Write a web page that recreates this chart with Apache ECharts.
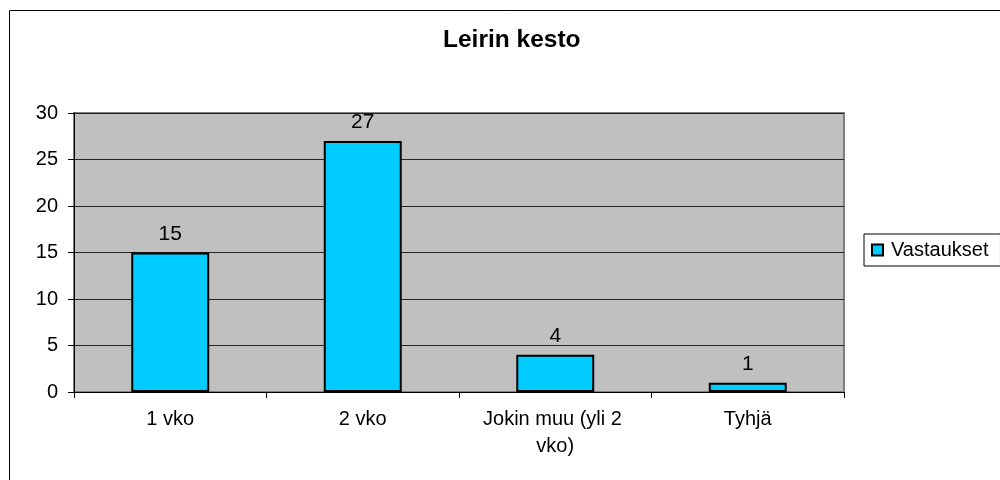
<!DOCTYPE html>
<html>
<head>
<meta charset="utf-8">
<script src="https://cdn.jsdelivr.net/npm/echarts@6/dist/echarts.min.js"></script>
<style>
	html,body{margin:0;padding:0;background:#fff;}
	#chart{width:1000px;height:480px;}
</style>
</head>
<body>
<div id="chart"></div>
<script>
	var chartTitle = 'Leirin kesto';
	var seriesName = 'Vastaukset';
	var categories = ['1 vko', '2 vko', 'Jokin muu (yli 2 vko)', 'Tyhjä'];
	var answers = [15, 27, 4, 1];
	var yTicks = [0, 5, 10, 15, 20, 25, 30];

	var font = 'Arial, "Liberation Sans", sans-serif';
	var chart = echarts.init(document.getElementById('chart'));
	var option = {
		animation: false,
		backgroundColor: '#fff',
		textStyle: {fontFamily: font},
		graphic: [{
			type: 'rect',
			shape: {x: 9.5, y: 10.5, width: 1000, height: 500},
			style: {fill: 'none', stroke: '#000', lineWidth: 1}
		}],
		title: {
			text: chartTitle,
			left: 443,
			top: 28,
			padding: 0,
			textStyle: {fontFamily: font, fontSize: 24.5, fontWeight: 'bold', color: '#000'}
		},
		legend: {
			data: [seriesName],
			left: 864,
			top: 234,
			padding: [6, 12, 6, 7],
			borderColor: '#000',
			borderWidth: 1,
			itemWidth: 11,
			itemHeight: 11,
			itemGap: 5,
			icon: 'rect',
			textStyle: {fontFamily: font, fontSize: 20, color: '#000', padding: [0, 0, 0, 3]}
		},
		grid: {
			left: 74, right: 156, top: 113, bottom: 88,
			show: true,
			backgroundColor: '#c0c0c0',
			borderColor: '#808080',
			borderWidth: 2,
			containLabel: false
		},
		xAxis: {
			type: 'category',
			data: categories,
			axisLine: {show: true, lineStyle: {color: '#000', width: 1}},
			axisTick: {show: true, length: 6, lineStyle: {color: '#000'}},
			axisLabel: {
				fontFamily: font, fontSize: 20, color: '#000', margin: 14,
				width: 175, overflow: 'break', lineHeight: 27, interval: 0
			},
			splitLine: {show: false}
		},
		yAxis: {
			type: 'value',
			min: yTicks[0],
			max: yTicks[yTicks.length - 1],
			interval: 5,
			axisLine: {show: true, lineStyle: {color: '#000', width: 1}},
			axisTick: {show: true, length: 6, lineStyle: {color: '#000'}},
			axisLabel: {fontFamily: font, fontSize: 20, color: '#000', margin: 16},
			splitLine: {show: true, lineStyle: {color: '#222', width: 1}}
		},
		series: [{
			name: seriesName,
			type: 'bar',
			data: answers,
			barWidth: '40.5%',
			itemStyle: {color: '#00ccff', borderColor: '#000', borderWidth: 2},
			label: {
				show: true, position: 'top', distance: 8,
				fontFamily: font, fontSize: 21, color: '#000'
			}
		}]
	};
	chart.setOption(option);
</script>
</body>
</html>
